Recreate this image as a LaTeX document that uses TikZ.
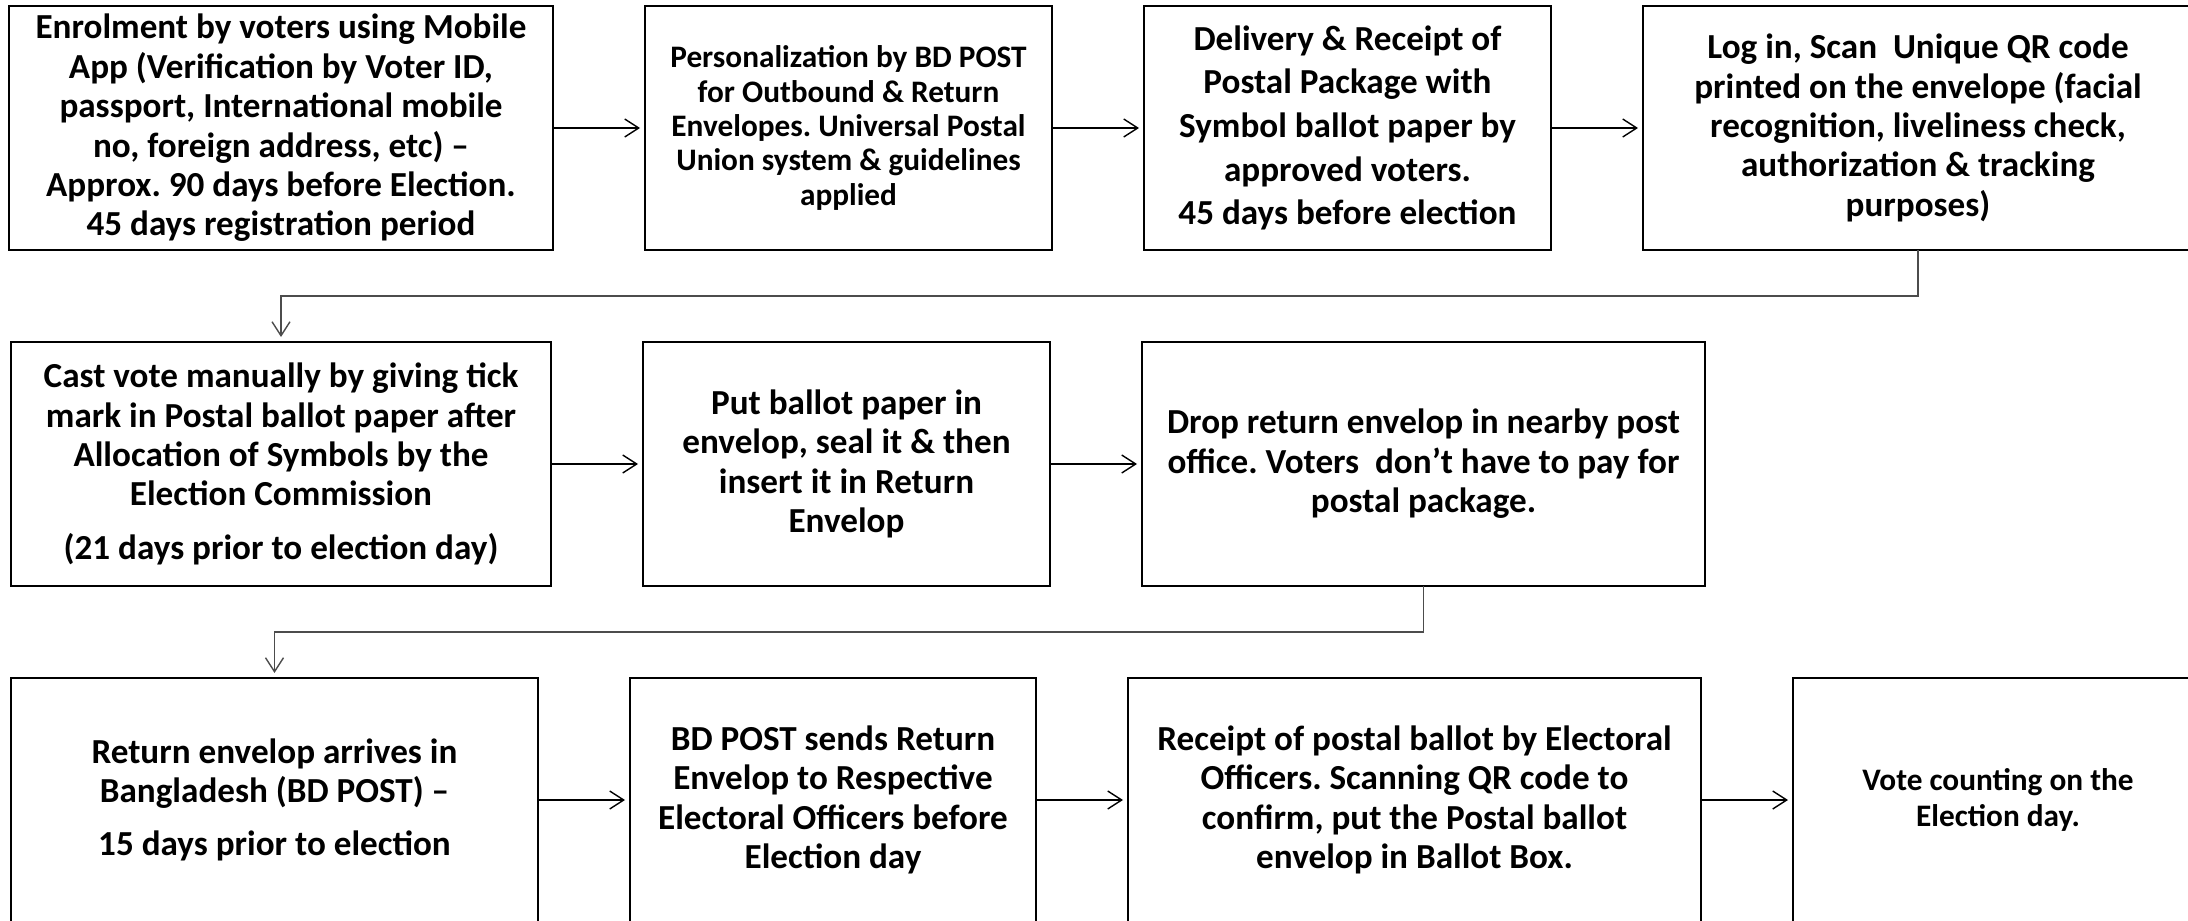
\documentclass[tikz,border=0pt]{standalone}
\usepackage{fontspec}
\setmainfont{Carlito}
\usetikzlibrary{arrows.meta, positioning}
\frenchspacing

\begin{document}
\begin{tikzpicture}[node distance=0.92cm,
		stage/.style={draw, line width=0.7pt, align=center, inner sep=0pt,
			outer sep=0pt, minimum height=2.44cm,
			font=\fontsize{10}{11.2}\selectfont\bfseries},
		flow/.style={-{Straight Barb[length=1.4mm, width=1.8mm]},
			line width=0.4pt, shorten >=0.5mm},
		turn/.style={flow, draw=black!70}]
	\useasboundingbox (0,0) rectangle (21.88,-9.21);

	% first row
	\node (enrolment) [stage, minimum width=5.44cm] at (2.81,-1.28)
	{Enrolment by voters using Mobile\\App (Verification by Voter ID,\\
		passport, International mobile\\no, foreign address, etc) –\\
		Approx. 90 days before Election.\\45 days registration period};
	\node (personalization) [stage, minimum width=4.07cm,
		font=\fontsize{8.9}{9.8}\selectfont\bfseries, right=of enrolment]
	{Personalization by BD POST\\for Outbound \& Return\\
		Envelopes. Universal Postal\\Union system \& guidelines\\applied};
	\node (delivery) [stage, minimum width=4.07cm,
		font=\fontsize{10}{12.4}\selectfont\bfseries, right=of personalization]
	{Delivery \& Receipt of\\Postal Package with\\Symbol ballot paper by\\
		approved voters.\\45 days before election};
	\node (login) [stage, minimum width=5.5cm, right=of delivery]
	{Log in, Scan\ \ Unique QR code\\printed on the envelope (facial\\
		recognition, liveliness check,\\authorization \& tracking\\purposes)};

	% second row
	\node (castvote) [stage, minimum width=5.4cm, below=of enrolment]
	{Cast vote manually by giving tick\\mark in Postal ballot paper after\\
		Allocation of Symbols by the\\Election Commission\\[4pt]
		(21 days prior to election day)};
	\node (seal) [stage, minimum width=4.07cm, right=of castvote]
	{Put ballot paper in\\envelop, seal it \& then\\insert it in Return\\Envelop};
	\node (dropoff) [stage, minimum width=5.63cm, right=of seal]
	{Drop return envelop in nearby post\\
		office. Voters\ \ don’t have to pay for\\postal package.};

	% third row
	\node (arrival) [stage, minimum width=5.27cm,
		below=of castvote.south west, anchor=north west]
	{Return envelop arrives in\\Bangladesh (BD POST) –\\[4pt]
		15 days prior to election};
	\node (forwarding) [stage, minimum width=4.06cm, right=of arrival]
	{BD POST sends Return\\Envelop to Respective\\
		Electoral Officers before\\Election day};
	\node (receipt) [stage, minimum width=5.73cm, right=of forwarding]
	{Receipt of postal ballot by Electoral\\Officers. Scanning QR code to\\
		confirm, put the Postal ballot\\envelop in Ballot Box.};
	\node (counting) [stage, minimum width=4.1cm,
		font=\fontsize{8.9}{10}\selectfont\bfseries, right=of receipt]
	{Vote counting on the\\Election day.};

	\draw [flow] (enrolment) -- (personalization);
	\draw [flow] (personalization) -- (delivery);
	\draw [flow] (delivery) -- (login);
	\draw [turn] (login.south) -- ++(0,-0.46) -| (castvote.north);
	\draw [flow] (castvote) -- (seal);
	\draw [flow] (seal) -- (dropoff);
	\draw [turn] (dropoff.south) -- ++(0,-0.46) -| (arrival.north);
	\draw [flow] (arrival) -- (forwarding);
	\draw [flow] (forwarding) -- (receipt);
	\draw [flow] (receipt) -- (counting);
\end{tikzpicture}
\end{document}
